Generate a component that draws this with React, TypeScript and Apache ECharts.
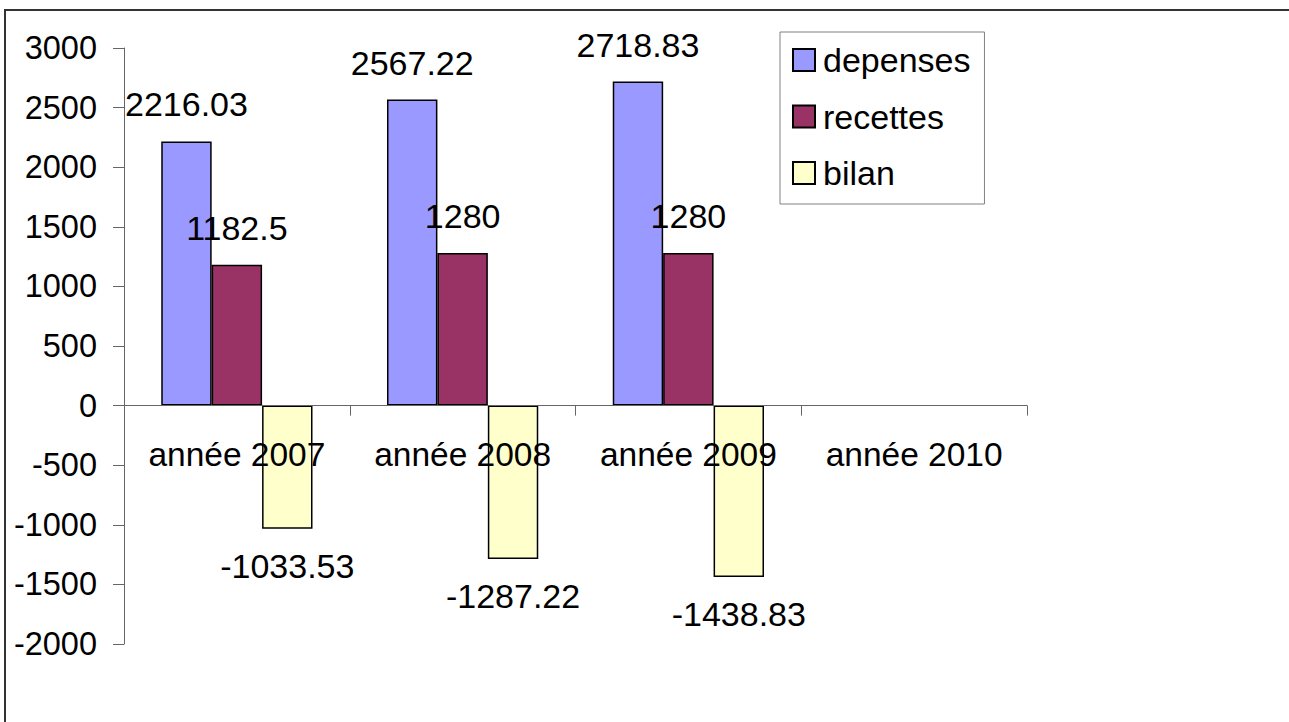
import React, { useEffect, useRef } from "react";
import * as echarts from "echarts";

const categories = ["année 2007", "année 2008", "année 2009", "année 2010"];
const depenses = [2216.03, 2567.22, 2718.83, null];
const recettes = [1182.5, 1280, 1280, null];
const bilan = [-1033.53, -1287.22, -1438.83, null];

const FONT = "'Liberation Sans', Arial, sans-serif";
const FS_LABEL = 34;
const FS_X = 33.5;
const FS_Y = 32.5;

export default function App() {
  const ref = useRef<HTMLDivElement>(null);
  useEffect(() => {
    document.body.style.margin = "0";
    const chart = echarts.init(ref.current!, null, { renderer: "svg" });
    const labelBase = {
      show: true,
      color: "#000",
      fontSize: FS_LABEL,
      fontFamily: FONT,
      distance: 20,
    };
    const barBase = {
      type: "bar" as const,
      barGap: "0%",
      barCategoryGap: "33%",
      z: 2,
    };
    const gridTop = 48;
    const gridBottom = 78;
    const gridH = 722 - gridTop - gridBottom;
    const zeroOffset = -(gridH * (2000 / 5000));
    chart.setOption({
      animation: false,
      textStyle: { fontFamily: FONT },
      graphic: [
        {
          type: "rect",
          shape: { x: 5, y: 10, width: 1300, height: 730 },
          style: { fill: "none", stroke: "#333", lineWidth: 2 },
          silent: true,
        },
      ],
      grid: { left: 124, right: 262, top: gridTop, bottom: gridBottom },
      legend: {
        orient: "vertical",
        left: 780,
        top: 32,
        padding: [11, 14, 14, 12],
        itemWidth: 22,
        itemHeight: 22,
        itemGap: 22.5,
        borderColor: "#808080",
        borderWidth: 1,
        icon: "rect",
        textStyle: { fontSize: FS_LABEL, fontFamily: FONT, color: "#000", padding: [0, 0, 0, 3] },
        data: ["depenses", "recettes", "bilan"],
      },
      xAxis: {
        type: "category",
        data: categories,
        position: "bottom",
        offset: zeroOffset,
        z: 5,
        axisLine: { onZero: false, lineStyle: { color: "#666", width: 1 } },
        axisTick: { show: true, interval: 0, length: 10, lineStyle: { color: "#666" } },
        axisLabel: {
          interval: 0,
          hideOverlap: false,
          fontSize: FS_X,
          fontFamily: FONT,
          color: "#000",
          margin: 32,
        },
        splitLine: { show: false },
      },
      yAxis: {
        type: "value",
        min: -2000,
        max: 3000,
        interval: 500,
        axisLine: { show: true, lineStyle: { color: "#666", width: 1 } },
        axisTick: { show: true, length: 11, lineStyle: { color: "#666" } },
        axisLabel: {
          fontSize: FS_Y,
          fontFamily: FONT,
          color: "#000",
          margin: 27,
          formatter: (v: number) => String(v),
        },
        splitLine: { show: false },
      },
      series: [
        {
          ...barBase,
          name: "depenses",
          data: depenses,
          itemStyle: { color: "#9999FF", borderColor: "#000", borderWidth: 1.5 },
          label: { ...labelBase, position: "top" },
        },
        {
          ...barBase,
          name: "recettes",
          data: recettes,
          itemStyle: { color: "#993366", borderColor: "#000", borderWidth: 1.5 },
          label: { ...labelBase, position: "top" },
        },
        {
          ...barBase,
          name: "bilan",
          data: bilan,
          itemStyle: { color: "#FFFFCC", borderColor: "#000", borderWidth: 1.5 },
          label: { ...labelBase, position: "bottom" },
        },
      ],
    });
    return () => chart.dispose();
  }, []);
  return (
    <div
      ref={ref}
      style={{ position: "fixed", left: 0, top: 0, width: 1289, height: 722, background: "#fff" }}
    />
  );
}
